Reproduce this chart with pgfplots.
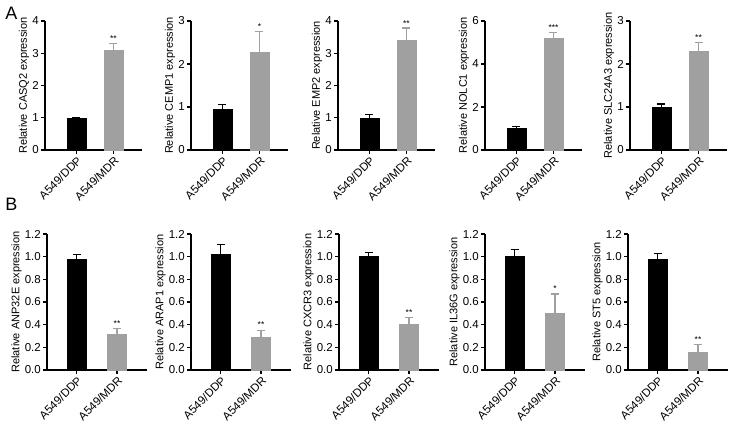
\documentclass[border=0pt]{standalone}
\usepackage{fontspec}
\setmainfont{Liberation Sans}
\usepackage{pgfplots}
\pgfplotsset{compat=1.18}
\definecolor{barg}{RGB}{160,160,160}
\newcommand{\fs}{\fontsize{11.5}{13}\selectfont}
\newcommand{\fl}{\fontsize{11}{13}\selectfont}
\tikzset{starnode/.style={anchor=south, font=\fontsize{8.5}{9}\selectfont, inner sep=1pt}}
\pgfplotsset{
  panel/.style={
    scale only axis, anchor=south west,
    axis x line*=bottom, axis y line*=left,
    axis line style={line width=1.2pt,-},
    tick style={line width=1.2pt,black},
    tick align=outside, major tick length=4pt,
    xtick={0,1}, xticklabels={A549/DDP,A549/MDR},
    xticklabel style={rotate=45, anchor=north east, font=\fs, inner sep=1pt},
    yticklabel style={font=\fs, inner sep=2pt},
    ylabel style={font=\fl, inner sep=1pt},
    /pgf/number format/assume math mode=true,
    ymin=0, ybar, bar width=19pt,
    clip=false,
  },
  rowA/.style={width=97pt,height=129pt,xmin=-0.85,xmax=1.77},
  rowB/.style={width=100pt,height=136pt,xmin=-0.73,xmax=1.74, ymax=1.2,
    ytick={0,0.2,0.4,0.6,0.8,1.0,1.2},
    yticklabel style={/pgf/number format/.cd,fixed,fixed zerofill,precision=1}},
  blk/.style={bar shift=0pt, fill=black, draw=black,
    error bars/.cd, y dir=plus, y explicit,
    error bar style={black,line width=1.2pt},
    error mark options={black,line width=1.2pt,rotate=90,mark size=4pt}},
  gry/.style={bar shift=0pt, fill=barg, draw=barg,
    error bars/.cd, y dir=plus, y explicit,
    error bar style={barg,line width=1.2pt},
    error mark options={barg,line width=1.2pt,rotate=90,mark size=4pt}},
}
\begin{document}
\begin{tikzpicture}
\useasboundingbox (0,0) rectangle (730pt,428pt);
\node[font=\fontsize{18}{20}\selectfont] at (11.5pt,414.5pt) {A};
\node[font=\fontsize{18}{20}\selectfont] at (11.5pt,224pt) {B};
% Row A
\begin{axis}[panel,rowA,at={(45pt,278pt)},ymax=4,ytick={0,1,2,3,4},ylabel={Relative CASQ2 expression}]
\addplot[blk] coordinates {(0,0.98) +- (0,0.03)};
\addplot[gry] coordinates {(1,3.08) +- (0,0.22)};
\node[starnode] at (axis cs:1,3.32) {**};
\end{axis}
\begin{axis}[panel,rowA,at={(191pt,278pt)},ymax=3,ytick={0,1,2,3},ylabel={Relative CEMP1 expression}]
\addplot[blk] coordinates {(0,0.95) +- (0,0.10)};
\addplot[gry] coordinates {(1,2.27) +- (0,0.48)};
\node[starnode] at (axis cs:1,2.77) {*};
\end{axis}
\begin{axis}[panel,rowA,at={(338pt,278pt)},ymax=4,ytick={0,1,2,3,4},ylabel={Relative EMP2 expression}]
\addplot[blk] coordinates {(0,1.00) +- (0,0.10)};
\addplot[gry] coordinates {(1,3.42) +- (0,0.36)};
\node[starnode] at (axis cs:1,3.80) {**};
\end{axis}
\begin{axis}[panel,rowA,at={(485pt,278pt)},ymax=6,ytick={0,2,4,6},ylabel={Relative NOLC1 expression}]
\addplot[blk] coordinates {(0,1.00) +- (0,0.10)};
\addplot[gry] coordinates {(1,5.20) +- (0,0.25)};
\node[starnode] at (axis cs:1,5.48) {***};
\end{axis}
\begin{axis}[panel,rowA,at={(630pt,278pt)},ymax=3,ytick={0,1,2,3},ylabel={Relative SLC24A3 expression}]
\addplot[blk] coordinates {(0,1.00) +- (0,0.07)};
\addplot[gry] coordinates {(1,2.30) +- (0,0.20)};
\node[starnode] at (axis cs:1,2.52) {**};
\end{axis}
% Row B
\begin{axis}[panel,rowB,at={(47pt,58pt)},ylabel={Relative ANP32E expression}]
\addplot[blk] coordinates {(0,0.975) +- (0,0.045)};
\addplot[gry] coordinates {(1,0.32) +- (0,0.045)};
\node[starnode] at (axis cs:1,0.375) {**};
\end{axis}
\begin{axis}[panel,rowB,at={(191pt,58pt)},ylabel={Relative ARAP1 expression}]
\addplot[blk] coordinates {(0,1.02) +- (0,0.09)};
\addplot[gry] coordinates {(1,0.29) +- (0,0.06)};
\node[starnode] at (axis cs:1,0.36) {**};
\end{axis}
\begin{axis}[panel,rowB,at={(339pt,58pt)},ylabel={Relative CXCR3 expression}]
\addplot[blk] coordinates {(0,1.00) +- (0,0.04)};
\addplot[gry] coordinates {(1,0.40) +- (0,0.06)};
\node[starnode] at (axis cs:1,0.47) {**};
\end{axis}
\begin{axis}[panel,rowB,at={(485pt,58pt)},ylabel={Relative IL36G expression}]
\addplot[blk] coordinates {(0,1.00) +- (0,0.06)};
\addplot[gry] coordinates {(1,0.50) +- (0,0.17)};
\node[starnode] at (axis cs:1,0.68) {*};
\end{axis}
\begin{axis}[panel,rowB,at={(628pt,58pt)},ylabel={Relative ST5 expression}]
\addplot[blk] coordinates {(0,0.98) +- (0,0.045)};
\addplot[gry] coordinates {(1,0.155) +- (0,0.07)};
\node[starnode] at (axis cs:1,0.235) {**};
\end{axis}
\end{tikzpicture}
\end{document}
